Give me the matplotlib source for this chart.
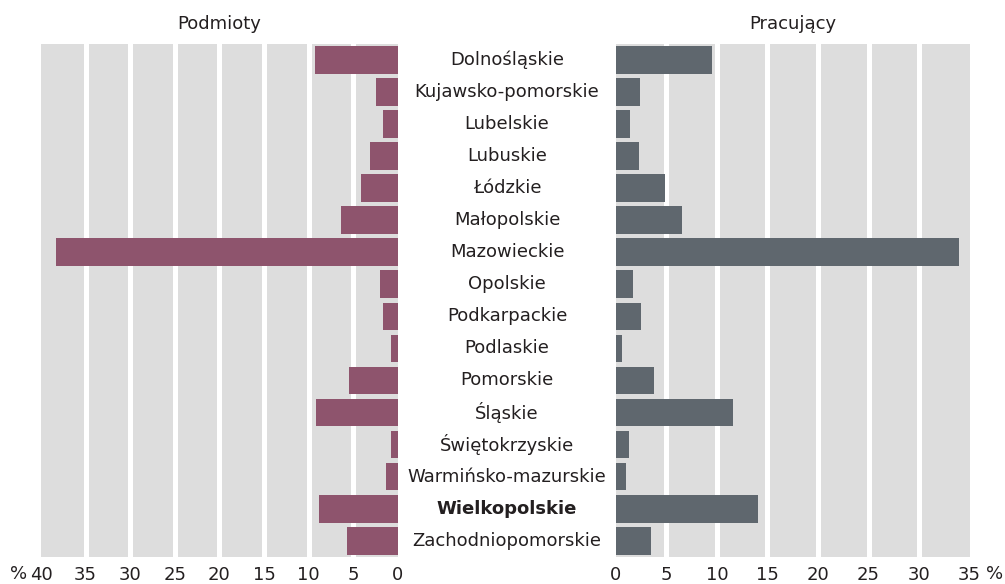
import numpy as np
import matplotlib
matplotlib.use("Agg")
import matplotlib.pyplot as plt
import matplotlib.transforms as mtransforms

plt.rcParams['font.family'] = ['DejaVu Sans']

# data (udział w %)
regions = ["Dolnośląskie", "Kujawsko-pomorskie", "Lubelskie", "Lubuskie", "Łódzkie",
           "Małopolskie", "Mazowieckie", "Opolskie", "Podkarpackie", "Podlaskie",
           "Pomorskie", "Śląskie", "Świętokrzyskie", "Warmińsko-mazurskie",
           "Wielkopolskie", "Zachodniopomorskie"]
podmioty = [9.3, 2.5, 1.7, 3.1, 4.1, 6.4, 38.3, 2.0, 1.7, 0.8, 5.5, 9.2, 0.8, 1.3, 8.9, 5.7]
pracujacy = [9.5, 2.4, 1.4, 2.3, 4.9, 6.5, 34.0, 1.7, 2.5, 0.6, 3.8, 11.6, 1.3, 1.0, 14.1, 3.5]
left_ticks = [0, 5, 10, 15, 20, 25, 30, 35, 40]
right_ticks = [0, 5, 10, 15, 20, 25, 30, 35]

purple = "#8e546d"
slate = "#5f676e"
bg = "#dddddd"
txt = "#231f20"

fig = plt.figure(figsize=(10.05, 5.84), dpi=100)
bottom, top = 0.0467, 0.9247
ax_l = fig.add_axes([0.0408, bottom, 0.3552, top - bottom])
ax_r = fig.add_axes([0.6129, bottom, 0.3518, top - bottom])

y = np.arange(len(regions))

for ax, vals, col, lim, ticks in [(ax_l, podmioty, purple, 40, left_ticks),
                                   (ax_r, pracujacy, slate, 35, right_ticks)]:
    ax.set_facecolor(bg)
    for v in ticks[1:-1]:
        ax.axvline(v, color="white", lw=3.6, zorder=1)
    ax.barh(y, vals, height=0.865, color=col, zorder=2)
    ax.set_xlim(0, lim)
    ax.set_ylim(len(regions) - 0.5, -0.5)
    ax.set_xticks(ticks)
    ax.set_yticks([])
    ax.tick_params(axis="x", length=0, pad=7, labelsize=13, colors=txt)
    for s in ax.spines.values():
        s.set_visible(False)

ax_l.invert_xaxis()

# percent signs beside end ticks
fig.text(0.0184, 0.0175, "%", ha="center", va="center", fontsize=13, color=txt)
fig.text(0.9900, 0.0175, "%", ha="center", va="center", fontsize=13, color=txt)

ax_l.set_title("Podmioty", fontsize=13, color=txt, pad=11)
ax_r.set_title("Pracujący", fontsize=13, color=txt, pad=11)

# region labels in the middle
trans = mtransforms.blended_transform_factory(fig.transFigure, ax_l.transData)
for i, name in enumerate(regions):
    ax_l.text(0.5045, i, name, transform=trans, ha="center", va="center",
              fontsize=13, color=txt,
              fontweight="bold" if name == "Wielkopolskie" else "normal")

fig.savefig("out.png", dpi=100)
